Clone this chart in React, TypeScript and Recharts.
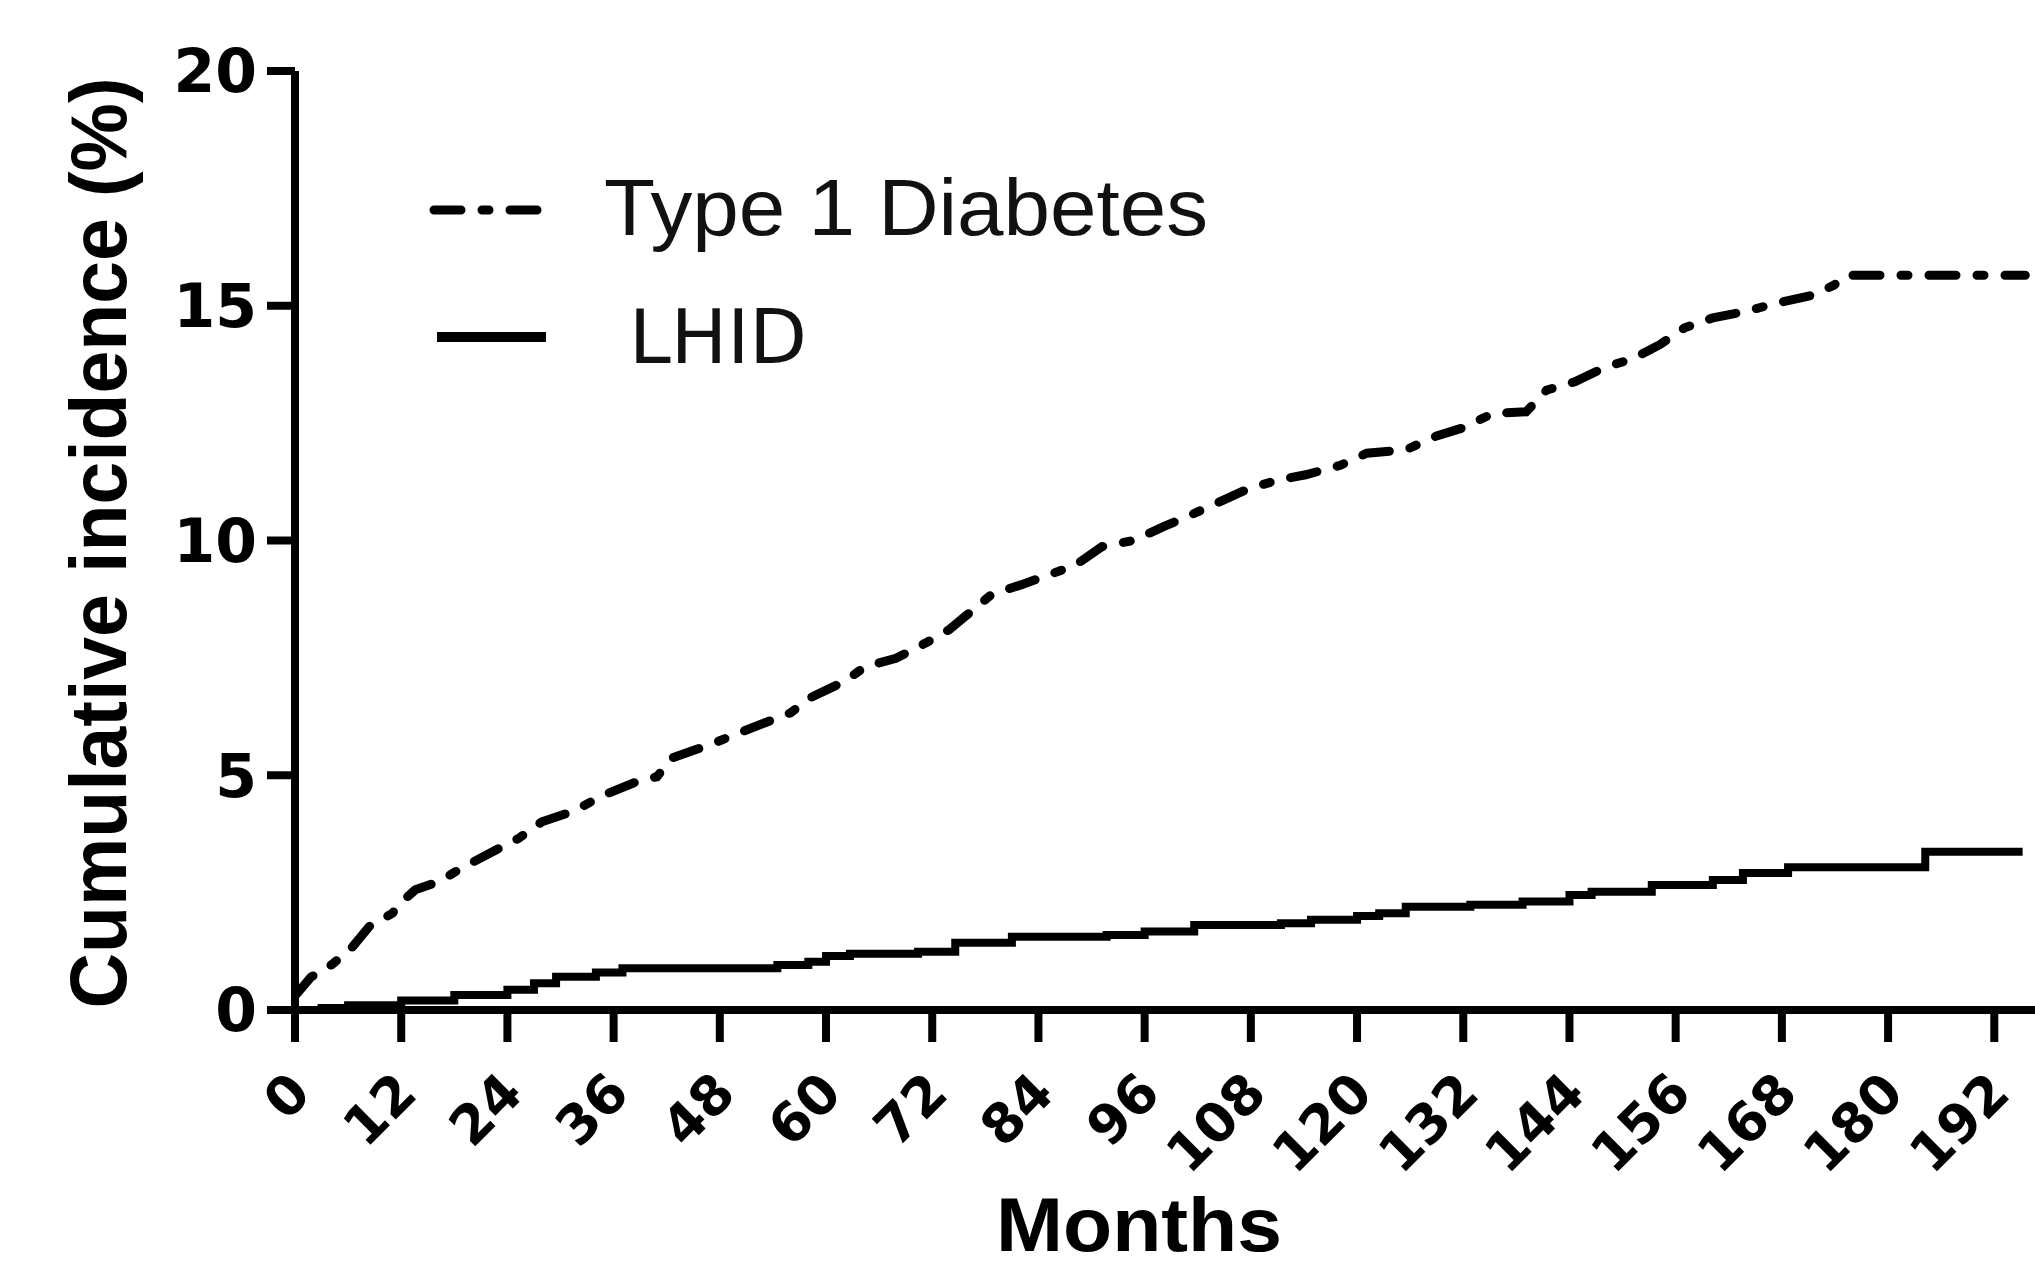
import { LineChart, Line, XAxis, YAxis, Legend } from "recharts";

const monthTicks = [0, 12, 24, 36, 48, 60, 72, 84, 96, 108, 120, 132, 144, 156, 168, 180, 192];
const incidenceTicks = [0, 5, 10, 15, 20];

// Type 1 Diabetes
const t1dMonths = [
  0, 1.8, 4.1, 6.2, 8.4, 11, 11.9, 13.6, 16.2, 18.8, 22.7, 25.3, 27.9, 31.4, 34.9, 38.3, 40.9, 42.6,
  46.9, 49.6, 53.4, 56, 58.2, 62.1, 64.4, 67.9, 71.3, 73.9, 75.7, 78.7, 82.1, 85.2, 88.2, 91.2, 94.7,
  98.2, 100.7, 104.2, 107.7, 111.1, 114.2, 118.1, 121.1, 125.5, 128.9, 131.8, 135.4, 139.1, 141.4,
  144.6, 147.8, 151.2, 154.2, 157, 160.2, 163.9, 167.5, 171.6, 173.9, 175.3, 195.5,
];
const t1dValues = [
  0.3, 0.7, 0.96, 1.28, 1.78, 2.06, 2.28, 2.56, 2.73, 3.02, 3.41, 3.66, 4.01, 4.23, 4.58, 4.84, 4.97, 5.37,
  5.65, 5.86, 6.14, 6.33, 6.65, 7.0, 7.31, 7.49, 7.82, 8.1, 8.38, 8.85, 9.06, 9.27, 9.48, 9.87, 10.0,
  10.3, 10.5, 10.8, 11.1, 11.29, 11.4, 11.6, 11.86, 11.93, 12.22, 12.39, 12.71, 12.74, 13.2,
  13.38, 13.67, 13.88, 14.17, 14.53, 14.74, 14.88, 15.06, 15.23, 15.44, 15.65, 15.65,
];

// LHID
const lhidMonths = [
  0, 3, 6, 12, 18, 24, 27, 29.5, 34, 37, 54.5, 58, 60, 62.7, 70.4, 74.6, 81, 91.7, 96, 101.6, 111.4,
  114.8, 120, 122.5, 125.5, 132.8, 138.7, 144, 146.5, 153.3, 160.2, 163.6, 168.7, 184.2, 195.2,
];
const lhidValues = [
  0, 0.04, 0.1, 0.2, 0.32, 0.43, 0.57, 0.71, 0.8, 0.89, 0.96, 1.03, 1.15, 1.2, 1.24, 1.43, 1.56, 1.6, 1.67,
  1.81, 1.85, 1.92, 2.0, 2.06, 2.2, 2.24, 2.31, 2.45, 2.52, 2.66, 2.77, 2.92, 3.04, 3.37, 3.37,
];

const t1dData = t1dMonths.map((m, i) => ({ m, v: t1dValues[i] }));
const lhidData = lhidMonths.map((m, i) => ({ m, v: lhidValues[i] }));

const DASH = "27 21 7 21";

function MonthTick({ x, y, payload }: any) {
  const tx = x + 18;
  const ty = y + 54;
  return (
    <text
      x={tx}
      y={ty}
      transform={`rotate(-45, ${tx}, ${ty})`}
      textAnchor="end"
      fontFamily="DejaVu Sans"
      fontWeight="bold"
      fontSize={54}
      fill="#000"
    >
      {payload.value}
    </text>
  );
}

function LegendBox() {
  return (
    <svg width={1300} height={400} style={{ display: "block" }}>
      <line x1={434} x2={545} y1={210} y2={210} stroke="#000" strokeWidth={9} strokeDasharray={DASH} strokeLinecap="round" />
      <line x1={437} x2={546} y1={337} y2={337} stroke="#000" strokeWidth={10} />
      <text x={604} y={235} fontFamily="Liberation Sans" fontSize={80} textLength={604} lengthAdjust="spacingAndGlyphs" fill="#111">
        Type 1 Diabetes
      </text>
      <text x={629} y={363} fontFamily="DejaVu Sans" fontSize={75} fill="#111">
        LHID
      </text>
    </svg>
  );
}

export default function App() {
  return (
    <div style={{ position: "absolute", left: 0, top: 0, width: 2035, height: 1267, background: "#fff" }}>
      <LineChart width={2035} height={1267} margin={{ top: 71, right: 0, bottom: 0, left: 0 }}>
        <XAxis
          type="number"
          dataKey="m"
          domain={[0, 196.6]}
          allowDataOverflow
          ticks={monthTicks}
          interval={0}
          height={257}
          tickSize={32}
          tickMargin={0}
          tick={<MonthTick />}
          axisLine={{ stroke: "#000", strokeWidth: 8 }}
          tickLine={{ stroke: "#000", strokeWidth: 8 }}
          label={{
            content: () => (
              <text
                x={1139}
                y={1251}
                textAnchor="middle"
                fontFamily="Liberation Sans"
                fontWeight="bold"
                fontSize={76}
                textLength={286}
                lengthAdjust="spacingAndGlyphs"
                fill="#000"
              >
                Months
              </text>
            ),
          }}
        />
        <YAxis
          type="number"
          domain={[0, 20]}
          ticks={incidenceTicks}
          interval={0}
          width={295}
          tickSize={28}
          tickMargin={10}
          tick={{ fontFamily: "DejaVu Sans", fontWeight: 700, fontSize: 60, fill: "#000" }}
          axisLine={{ stroke: "#000", strokeWidth: 8 }}
          tickLine={{ stroke: "#000", strokeWidth: 8 }}
          label={{
            content: () => (
              <text
                x={126}
                y={543}
                transform="rotate(-90, 126, 543)"
                textAnchor="middle"
                fontFamily="Liberation Sans"
                fontWeight="bold"
                fontSize={80}
                textLength={931}
                lengthAdjust="spacingAndGlyphs"
                fill="#000"
              >
                Cumulative incidence (%)
              </text>
            ),
          }}
        />
        <Legend
          layout="vertical"
          align="center"
          verticalAlign="middle"
          wrapperStyle={{ left: 0, top: 0, width: 1300, height: 400 }}
          content={() => <LegendBox />}
        />
        <Line
          data={t1dData}
          dataKey="v"
          type="linear"
          stroke="#000"
          strokeWidth={9}
          strokeDasharray={DASH}
          strokeLinecap="round"
          dot={false}
          activeDot={false}
          isAnimationActive={false}
        />
        <Line
          data={lhidData}
          dataKey="v"
          type="stepAfter"
          stroke="#000"
          strokeWidth={8}
          dot={false}
          activeDot={false}
          isAnimationActive={false}
        />
      </LineChart>
    </div>
  );
}
